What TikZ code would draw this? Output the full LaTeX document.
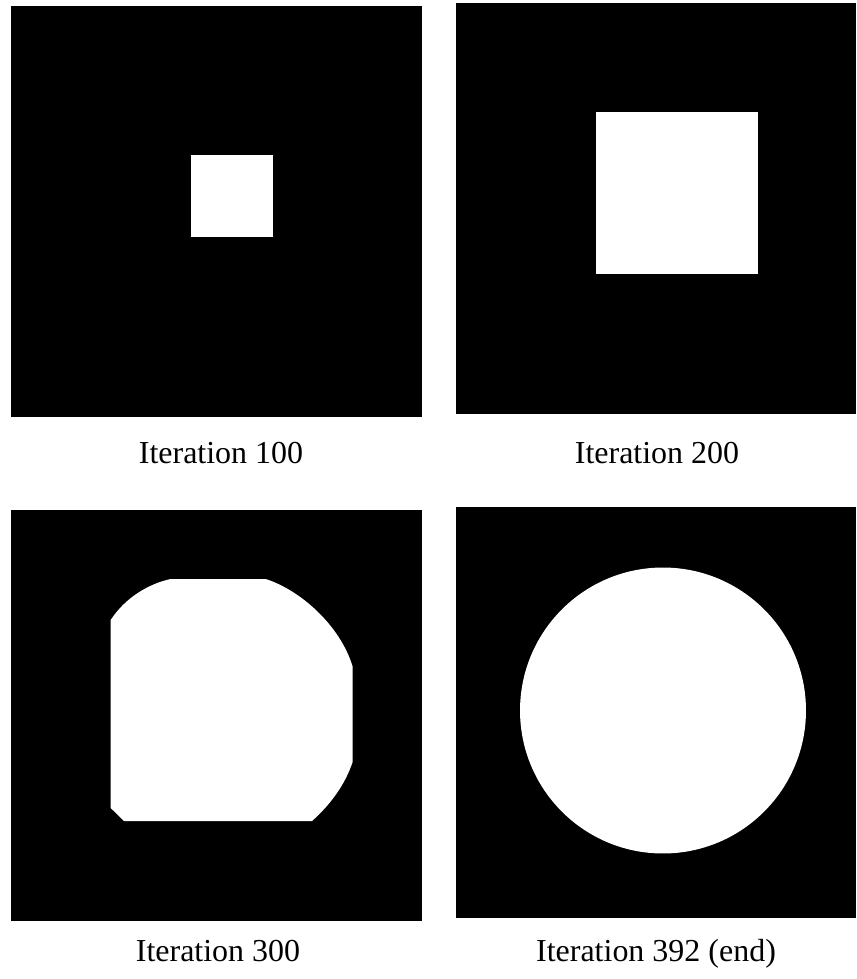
\documentclass[tikz,border=0pt]{standalone}
\usepackage{fontspec}
\setmainfont{Liberation Serif}
\usetikzlibrary{positioning}

\begin{document}
\begin{tikzpicture}[
    x=0.02cm, y=-0.02cm,
    panel/.style={fill=black},
    blob/.style={fill=white},
    caption/.style={font=\fontsize{18.2}{21}\selectfont, anchor=base, inner sep=0pt},
]
\useasboundingbox (0,0) rectangle (856,979);
% ----- the four snapshots, black field with the white region
\fill[panel] (11,6) rectangle (422,417);
\fill[blob] (190.7,155.3) rectangle (272.7,237);
\fill[panel] (456,3) rectangle (856,414);
\fill[blob] (595.7,112.3) rectangle (757.7,274.3);
\fill[panel] (11,510) rectangle (422,921);
\fill[blob] (170.7,579) -- (265.7,579)
      .. controls (300,590) and (340,625) .. (352.7,666.7) -- (352.7,761.7)
      .. controls (345,785) and (330,805) .. (312,821) -- (124,821) -- (110.7,808) -- (110.7,620)
      .. controls (125,598) and (148,584) .. (170.7,579) -- cycle;
\fill[panel] (456,507) rectangle (856,918);
\fill[blob] (663,710.5) circle [radius=2.86cm];
% ----- captions
\node[caption] (c1) at (221,463) {Iteration 100};
\node[caption] (c2) at (657,463) {Iteration 200};
\node[caption] (c3) at (218,961) {Iteration 300};
\node[caption] (c4) at (656,961) {Iteration 392 (end)};
\end{tikzpicture}
\end{document}
